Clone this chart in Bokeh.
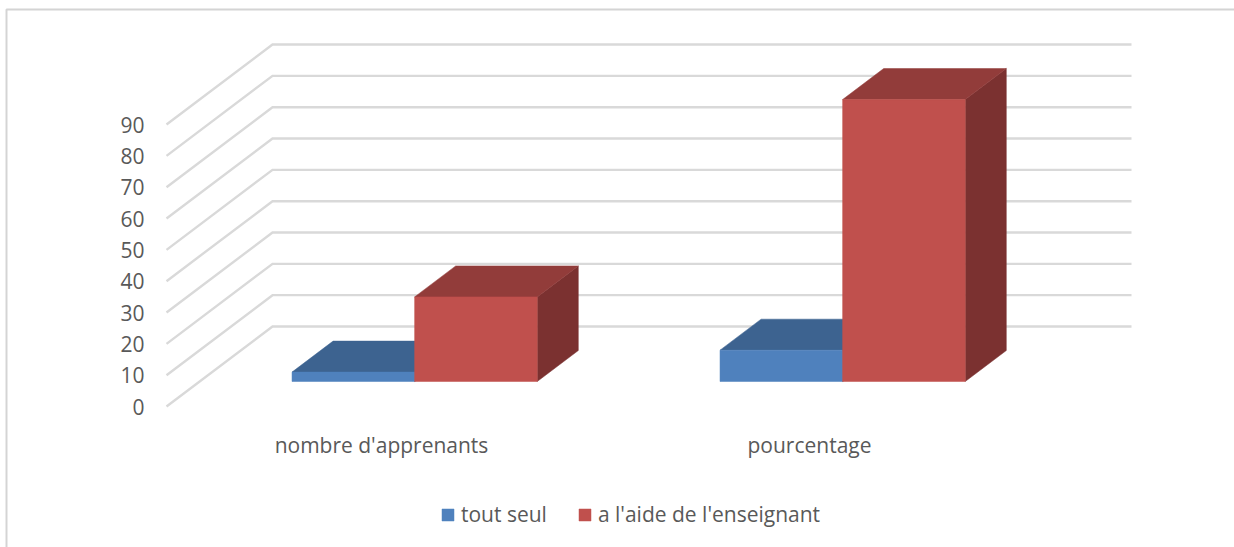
from bokeh.plotting import figure
from bokeh.models import Range1d, FixedTicker, Legend, LegendItem, BoxAnnotation
from bokeh.embed import file_html
from bokeh.resources import INLINE

# --- data ---
categories = ["nombre d'apprenants", "pourcentage"]
tout_seul = [3, 10]
a_l_aide = [27, 90]
y_ticks = [0, 10, 20, 30, 40, 50, 60, 70, 80, 90]
series_names = ["tout seul", "a l'aide de l'enseignant"]

# --- 3D projection, expressed in axis units ---
W, H = 1234, 547
PX_PER_CAT = 428.0
PX_PER_VAL = 3.133
ORIGIN_X, ORIGIN_Y = 381.0, 406.0      # pixel of (category 1, value 0) on the front plane
DEPTH_DX = 106 / PX_PER_CAT            # full wall depth, in category units
DEPTH_DY = 80 / PX_PER_VAL             # full wall depth, in value units
BAR_D0, BAR_D1 = 0.3125, 0.70          # bars' depth span
BAR_W = 122.6 / PX_PER_CAT
X_MIN, X_MAX = 0.4977, 2.5047


def proj(x, v, d):
    return x + d * DEPTH_DX, v + d * DEPTH_DY


x_range = Range1d(1 - ORIGIN_X / PX_PER_CAT, 1 + (W - ORIGIN_X) / PX_PER_CAT)
y_range = Range1d(-(H - ORIGIN_Y) / PX_PER_VAL, ORIGIN_Y / PX_PER_VAL)

p = figure(width=W, height=H, x_range=x_range, y_range=y_range,
           output_backend="svg", toolbar_location=None,
           min_border=0, margin=(0, 0, 0, 0), background_fill_color="white",
           border_fill_color="white", outline_line_color=None)
p.grid.visible = False

FONT = "Open Sans"
TXT = "#595959"
SIZE = "21px"

# chart border
p.add_layout(BoxAnnotation(left=6, right=W + 10, top=9, bottom=H + 10,
                           left_units="canvas", right_units="canvas",
                           top_units="canvas", bottom_units="canvas",
                           fill_alpha=0, line_color="#d4d4d4", line_alpha=1, line_width=2, level="underlay"))

# walls' gridlines
GRID = "#d9d9d9"
gx, gy = [], []
for t in y_ticks:
    a = proj(X_MIN, t, 0)
    b = proj(X_MIN, t, 1)
    c = proj(X_MAX, t, 1)
    gx.append([a[0], b[0], c[0]])
    gy.append([a[1], b[1], c[1]])
p.multi_line(gx, gy, line_color=GRID, line_width=2.4, line_join="miter")


def bar(cat_i, left_off, value, front, top, side):
    x0 = cat_i + 1 + left_off
    x1 = x0 + BAR_W
    def q(pts):
        xs, ys = zip(*pts)
        return list(xs), list(ys)
    tx, ty = q([proj(x0, value, BAR_D0), proj(x1, value, BAR_D0), proj(x1, value, BAR_D1), proj(x0, value, BAR_D1)])
    sx, sy = q([proj(x1, 0, BAR_D0), proj(x1, value, BAR_D0), proj(x1, value, BAR_D1), proj(x1, 0, BAR_D1)])
    fx, fy = q([proj(x0, 0, BAR_D0), proj(x1, 0, BAR_D0), proj(x1, value, BAR_D0), proj(x0, value, BAR_D0)])
    p.patch(sx, sy, fill_color=side, line_color=side, line_width=0.5)
    p.patch(tx, ty, fill_color=top, line_color=top, line_width=0.5)
    return p.patch(fx, fy, fill_color=front, line_color=front, line_width=0.5)


rb = rr = None
for i in range(len(categories)):
    rb = bar(i, -BAR_W, tout_seul[i], "#4f81bd", "#3d6390", "#2f4d71")
    rr = bar(i, 0, a_l_aide[i], "#c0504d", "#923c3a", "#7b3130")

# axes drawn inside the frame
yax = p.yaxis[0]
yax.fixed_location = X_MIN
yax.ticker = FixedTicker(ticks=y_ticks)
yax.axis_line_color = None
yax.major_tick_line_color = None
yax.minor_tick_line_color = None
yax.major_label_standoff = 16
yax.major_label_text_font = FONT
yax.major_label_text_font_size = SIZE
yax.major_label_text_color = TXT

xax = p.xaxis[0]
xax.fixed_location = 0
label_pos = [1.0, 2.0]
xax.ticker = FixedTicker(ticks=label_pos)
xax.major_label_overrides = {k: v for k, v in zip(label_pos, categories)}
xax.axis_line_color = None
xax.major_tick_line_color = None
xax.minor_tick_line_color = None
xax.major_label_standoff = 18
xax.major_label_text_font = FONT
xax.major_label_text_font_size = SIZE
xax.major_label_text_color = TXT

legend = Legend(items=[LegendItem(label=series_names[0], renderers=[rb]),
                       LegendItem(label=series_names[1], renderers=[rr])],
                orientation="horizontal", location=(440, 19),
                glyph_width=15, glyph_height=15, label_standoff=6, spacing=30,
                padding=0, margin=0, border_line_color=None, background_fill_alpha=0,
                label_text_font=FONT, label_text_font_size=SIZE, label_text_color=TXT)
p.add_layout(legend)

open("out.html", "w").write(file_html(p, INLINE))
